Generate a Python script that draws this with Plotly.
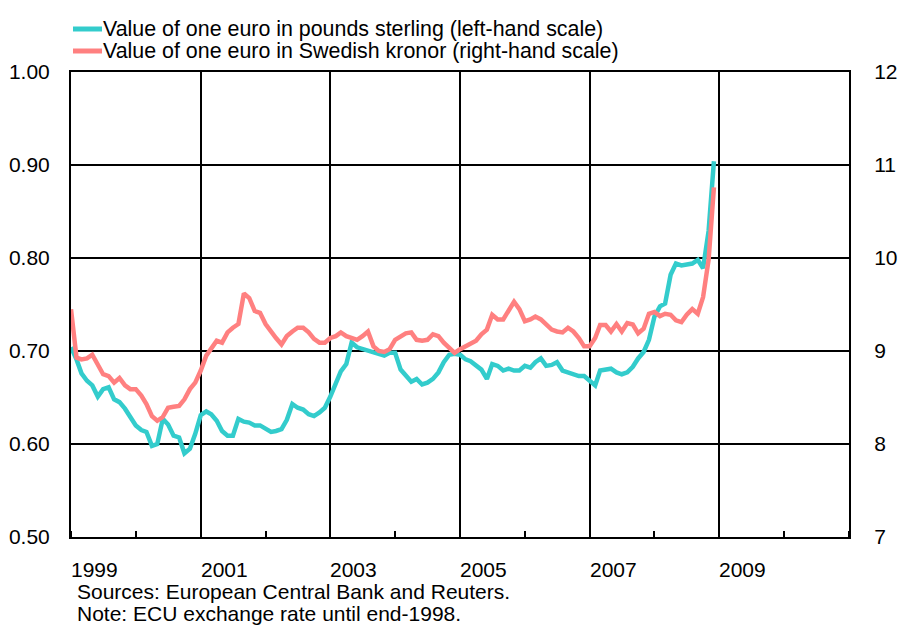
import pandas as pd
import plotly.graph_objects as go

dates = pd.date_range("1999-01-01", periods=120, freq="MS")

gbp = [0.704, 0.691, 0.676, 0.668, 0.663, 0.651, 0.659, 0.661, 0.648, 0.645, 0.638, 0.629,
       0.620, 0.615, 0.613, 0.598, 0.600, 0.627, 0.621, 0.609, 0.607, 0.590, 0.595, 0.611,
       0.631, 0.635, 0.632, 0.625, 0.614, 0.609, 0.609, 0.627, 0.624, 0.623, 0.620, 0.620,
       0.616, 0.613, 0.614, 0.616, 0.626, 0.643, 0.639, 0.637, 0.632, 0.630, 0.634, 0.639,
       0.651, 0.665, 0.678, 0.686, 0.709, 0.704, 0.702, 0.700, 0.698, 0.696, 0.695, 0.698,
       0.698, 0.680, 0.673, 0.667, 0.670, 0.664, 0.666, 0.670, 0.677, 0.688, 0.696, 0.697,
       0.696, 0.691, 0.689, 0.684, 0.680, 0.670, 0.686, 0.684, 0.679, 0.681, 0.679, 0.679,
       0.684, 0.682, 0.688, 0.692, 0.684, 0.685, 0.688, 0.679, 0.677, 0.674, 0.673, 0.673,
       0.668, 0.663, 0.679, 0.680, 0.681, 0.677, 0.675, 0.677, 0.683, 0.692, 0.699, 0.712,
       0.737, 0.748, 0.751, 0.782, 0.794, 0.792, 0.793, 0.794, 0.798, 0.789, 0.829, 0.904]

sek = [9.45, 8.93, 8.91, 8.92, 8.96, 8.86, 8.75, 8.73, 8.66, 8.71, 8.63, 8.59,
       8.59, 8.52, 8.43, 8.30, 8.25, 8.29, 8.39, 8.40, 8.41, 8.48, 8.59, 8.66,
       8.79, 8.95, 9.02, 9.11, 9.09, 9.20, 9.25, 9.29, 9.62, 9.57, 9.43, 9.41,
       9.29, 9.20, 9.14, 9.07, 9.16, 9.21, 9.25, 9.25, 9.20, 9.13, 9.09, 9.09,
       9.14, 9.16, 9.20, 9.16, 9.14, 9.12, 9.16, 9.21, 9.05, 9.00, 8.99, 9.02,
       9.12, 9.16, 9.19, 9.20, 9.12, 9.11, 9.12, 9.18, 9.16, 9.09, 9.04, 8.98,
       9.02, 9.05, 9.09, 9.11, 9.18, 9.23, 9.39, 9.34, 9.34, 9.43, 9.53, 9.45,
       9.32, 9.34, 9.37, 9.34, 9.29, 9.23, 9.21, 9.20, 9.25, 9.21, 9.14, 9.05,
       9.05, 9.14, 9.28, 9.28, 9.21, 9.29, 9.21, 9.30, 9.285, 9.19, 9.24, 9.40,
       9.42, 9.375, 9.40, 9.39, 9.33, 9.31, 9.39, 9.45, 9.40, 9.58, 9.98, 10.76]

year_labels = ["1999", "2001", "2003", "2005", "2007", "2009"]
grid_years = ["2001-01-01", "2003-01-01", "2005-01-01", "2007-01-01", "2009-01-01"]
left_ticks = [0.5, 0.6, 0.7, 0.8, 0.9, 1.0]
right_ticks = [7, 8, 9, 10, 11, 12]

series_names = ["Value of one euro in pounds sterling (left-hand scale)",
                "Value of one euro in Swedish kronor (right-hand scale)"]
notes = ["Sources: European Central Bank and Reuters.",
         "Note: ECU exchange rate until end-1998."]

CYAN = "#33CCCC"
RED = "#FF8080"
FONT = "Liberation Sans, Arial, sans-serif"
FS = 21

fig = go.Figure()
fig.add_trace(go.Scatter(x=dates, y=gbp, mode="lines", name=series_names[0],
                         line=dict(color=CYAN, width=4.5), yaxis="y", showlegend=False))
fig.add_trace(go.Scatter(x=dates, y=sek, mode="lines", name=series_names[1],
                         line=dict(color=RED, width=4.5), yaxis="y2", showlegend=False))

W, H = 898, 626
L, R, T, B = 71, 49, 72, 89
pw, ph = W - L - R, H - T - B

def px_x(x):
    return (x - L) / pw

def px_y(y):
    return (H - B - y) / ph

annotations = []
shapes = []
# legend (manual)
for i, (name, col) in enumerate(zip(series_names, [CYAN, RED])):
    yy = 29 + 22 * i
    shapes.append(dict(type="line", xref="paper", yref="paper",
                       x0=px_x(73), x1=px_x(102), y0=px_y(yy), y1=px_y(yy),
                       line=dict(color=col, width=5)))
    annotations.append(dict(text=name, xref="paper", yref="paper", x=px_x(101), y=px_y(yy),
                            xanchor="left", yanchor="middle", showarrow=False,
                            font=dict(family=FONT, size=21.4, color="black")))
# year labels
for lab in year_labels:
    annotations.append(dict(text=lab, xref="x", yref="paper", x=f"{lab}-01-01", y=0,
                            xanchor="left", yanchor="middle", yshift=-32, xshift=-2,
                            showarrow=False, font=dict(family=FONT, size=FS, color="black")))
# footnotes
for i, n in enumerate(notes):
    annotations.append(dict(text=n, xref="paper", yref="paper", x=px_x(75), y=0,
                            xanchor="left", yanchor="middle", yshift=-(54 + 22 * i),
                            showarrow=False, font=dict(family=FONT, size=FS, color="black")))

fig.update_layout(
    width=W, height=H, autosize=False,
    margin=dict(l=L, r=R, t=T, b=B, pad=0, autoexpand=False),
    paper_bgcolor="white", plot_bgcolor="white",
    font=dict(family=FONT, size=FS, color="black"),
    xaxis=dict(
        range=["1999-01-01", "2011-01-01"], automargin=False,
        tickmode="array", tickvals=grid_years, showticklabels=False, ticks="",
        showgrid=True, gridcolor="black", gridwidth=1.5,
        showline=True, linecolor="black", linewidth=2, mirror=True,
        zeroline=False,
        minor=dict(ticks="inside", ticklen=6, tickcolor="black", tickwidth=1.5,
                   dtick="M12", tick0="1999-01-01", showgrid=False),
    ),
    yaxis=dict(
        range=[0.5, 1.0], automargin=False, tickmode="array", tickvals=left_ticks,
        ticktext=[f"{v:.2f}" for v in left_ticks],
        showgrid=True, gridcolor="black", gridwidth=1.5,
        showline=True, linecolor="black", linewidth=2, mirror=True,
        ticks="", ticklabelstandoff=15, zeroline=False,
    ),
    yaxis2=dict(
        range=[7, 12], automargin=False, tickmode="array", tickvals=right_ticks,
        ticktext=[str(v) for v in right_ticks],
        overlaying="y", side="right", showgrid=False,
        showline=True, linecolor="black", linewidth=2,
        ticks="", ticklabelstandoff=19, zeroline=False,
    ),
    annotations=annotations,
    shapes=shapes,
)

fig.write_html("out.html", config={"displayModeBar": False},
               post_script="document.body.style.margin='0px';")
